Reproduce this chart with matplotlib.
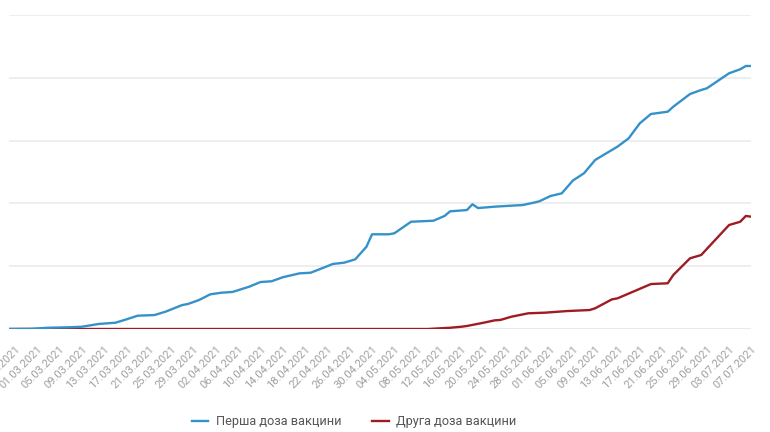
import pandas as pd
import matplotlib
matplotlib.use("Agg")
import matplotlib.pyplot as plt

plt.rcParams['font.family'] = ['Roboto', 'DejaVu Sans']

# first dose
first_dates = [
    "24.02.2021", "28.02.2021", "03.03.2021", "07.03.2021", "09.03.2021", "12.03.2021",
    "15.03.2021", "17.03.2021", "19.03.2021", "22.03.2021", "24.03.2021", "27.03.2021",
    "28.03.2021", "30.03.2021", "01.04.2021", "03.04.2021", "05.04.2021", "08.04.2021",
    "10.04.2021", "12.04.2021", "14.04.2021", "17.04.2021", "19.04.2021", "21.04.2021",
    "23.04.2021", "25.04.2021", "27.04.2021", "29.04.2021", "30.04.2021", "03.05.2021",
    "04.05.2021", "07.05.2021", "11.05.2021", "13.05.2021", "14.05.2021", "17.05.2021",
    "18.05.2021", "19.05.2021", "22.05.2021", "25.05.2021", "27.05.2021", "29.05.2021",
    "30.05.2021", "01.06.2021", "03.06.2021", "05.06.2021", "07.06.2021", "09.06.2021",
    "13.06.2021", "15.06.2021", "17.06.2021", "19.06.2021", "22.06.2021", "23.06.2021",
    "26.06.2021", "28.06.2021", "29.06.2021", "03.07.2021", "05.07.2021", "06.07.2021",
    "07.07.2021",
]
first_values = [
    0, 2000, 10000, 14000, 18000, 40000,
    50000, 77000, 106000, 111000, 138000, 191000,
    199000, 231000, 276000, 289000, 295000, 337000,
    374000, 380000, 412000, 443000, 448000, 483000,
    518000, 528000, 555000, 655000, 754000, 754000,
    762000, 854000, 862000, 900000, 937000, 947000,
    993000, 963000, 974000, 982000, 987000, 1006000,
    1017000, 1059000, 1080000, 1182000, 1240000, 1346000,
    1452000, 1518000, 1638000, 1712000, 1730000, 1770000,
    1871000, 1903000, 1916000, 2036000, 2068000, 2094000,
    2094000,
]

# second dose
second_dates = [
    "24.02.2021", "10.05.2021", "14.05.2021", "16.05.2021", "17.05.2021", "20.05.2021",
    "22.05.2021", "23.05.2021", "25.05.2021", "28.05.2021", "31.05.2021", "04.06.2021",
    "08.06.2021", "09.06.2021", "12.06.2021", "13.06.2021", "19.06.2021", "22.06.2021",
    "23.06.2021", "26.06.2021", "28.06.2021", "03.07.2021", "05.07.2021", "06.07.2021",
    "07.07.2021",
]
second_values = [
    0, 0, 10000, 18000, 24000, 50000,
    69000, 72000, 98000, 125000, 130000, 143000,
    151000, 165000, 236000, 244000, 358000, 364000,
    430000, 563000, 589000, 828000, 854000, 900000,
    894000,
]

labels = ["Перша доза вакцини", "Друга доза вакцини"]
colors = ["#3592c9", "#9e1c22"]

fd = pd.to_datetime(first_dates, format="%d.%m.%Y")
sd = pd.to_datetime(second_dates, format="%d.%m.%Y")

fig = plt.figure(figsize=(7.7, 4.32), dpi=100)
ax = fig.add_axes([9.4 / 770, 103 / 432, 742 / 770, 314 / 432])

ax.plot(sd, second_values, color=colors[1], lw=1.7, label=labels[1], zorder=3)
ax.plot(fd, first_values, color=colors[0], lw=1.7, label=labels[0], zorder=4)

ax.set_xlim(fd[0], fd[-1])
ax.set_ylim(0, 2500000)
ax.set_yticks([0, 500000, 1000000, 1500000, 2000000, 2500000])
ax.set_yticklabels([])
ax.tick_params(axis="y", length=0)
ax.grid(axis="y", color="#ebebeb", lw=1.2, zorder=0)
ax.axhline(0, color="#dde0ec", lw=1.2, zorder=1)
for s in ax.spines.values():
    s.set_visible(False)

ticks = pd.date_range("2021-02-25", "2021-07-07", freq="4D")
ax.set_xticks(ticks)
ax.set_xticklabels([t.strftime("%d.%m.%Y") for t in ticks], rotation=45,
                   ha="right", rotation_mode="anchor", fontsize=8, color="#a0a0a0")
ax.tick_params(axis="x", length=0, pad=11)

handles, labs = ax.get_legend_handles_labels()
leg = fig.legend(handles[::-1], labs[::-1], loc="center", bbox_to_anchor=(354 / 770, 10 / 432),
                 ncol=2, frameon=False, fontsize=9.2, handlelength=1.3, columnspacing=2.4,
                 handletextpad=0.6)
for t in leg.get_texts():
    t.set_color("#555555")

fig.savefig("out.png", dpi=100)
